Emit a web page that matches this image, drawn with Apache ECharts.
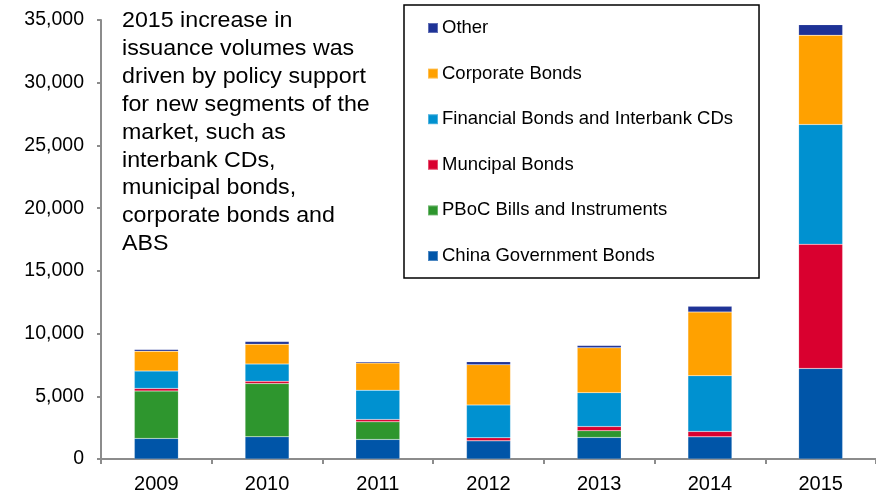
<!DOCTYPE html>
<html>
<head>
<meta charset="utf-8">
<script src="https://cdn.jsdelivr.net/npm/echarts@6/dist/echarts.min.js"></script>
<style>
  html, body { margin: 0; padding: 0; background: #fff; }
  #chart { width: 876px; height: 495px; }
</style>
</head>
<body>
<div id="chart"></div>
<script>
// Bond issuance by type, stacked per year
const years = ['2009', '2010', '2011', '2012', '2013', '2014', '2015'];
const governmentBonds = [1640, 1770, 1560, 1450, 1720, 1770, 7220];
const pbocBills       = [3780, 4240, 1400, 0, 530, 0, 0];
const municipalBonds  = [210, 180, 190, 240, 340, 430, 9900];
const financialBonds  = [1380, 1380, 2330, 2620, 2700, 4440, 9550];
const corporateBonds  = [1590, 1580, 2170, 3210, 3570, 5080, 7120];
const otherBonds      = [130, 220, 110, 240, 190, 450, 840];
const yTicks = [0, 5000, 10000, 15000, 20000, 25000, 30000, 35000];
const note = [
  '2015 increase in',
  'issuance volumes was',
  'driven by policy support',
  'for new segments of the',
  'market, such as',
  'interbank CDs,',
  'municipal bonds,',
  'corporate bonds and',
  'ABS'
];

const FONT = '"Liberation Sans", Arial, sans-serif';

const seriesDefs = [
  { name: 'China Government Bonds', data: governmentBonds, color: '#0055A8' },
  { name: 'PBoC Bills and Instruments', data: pbocBills, color: '#2E962E' },
  { name: 'Muncipal Bonds', data: municipalBonds, color: '#D9002F' },
  { name: 'Financial Bonds and Interbank CDs', data: financialBonds, color: '#0091D0' },
  { name: 'Corporate Bonds', data: corporateBonds, color: '#FFA100' },
  { name: 'Other', data: otherBonds, color: '#1E3296' }
];

const chart = echarts.init(document.getElementById('chart'), null, { renderer: 'canvas' });

chart.setOption({
  animation: false,
  backgroundColor: '#ffffff',
  grid: { left: 101, right: 0, top: 20, bottom: 36, containLabel: false },
  legend: {
    orient: 'vertical',
    left: 404,
    top: 5,
    width: 353,
    padding: [13, 26, 12, 23],
    itemGap: 25.6,
    itemWidth: 10,
    itemHeight: 10,
    icon: 'rect',
    borderColor: '#000',
    borderWidth: 1.5,
    textStyle: { fontFamily: FONT, fontSize: 18.5, color: '#000', lineHeight: 20, padding: [0, 0, 0, -1] },
    data: ['Other', 'Corporate Bonds', 'Financial Bonds and Interbank CDs',
           'Muncipal Bonds', 'PBoC Bills and Instruments', 'China Government Bonds']
  },
  xAxis: {
    type: 'category',
    data: years,
    axisLine: { lineStyle: { color: '#8c8c8c', width: 2 } },
    axisTick: { show: true, length: 5, lineStyle: { color: '#8c8c8c', width: 2 } },
    axisLabel: { fontFamily: FONT, fontSize: 20, color: '#000', margin: 15 }
  },
  yAxis: {
    type: 'value',
    min: 0,
    max: 35000,
    interval: 5000,
    splitLine: { show: false },
    axisLine: { show: true, lineStyle: { color: '#8c8c8c', width: 2 } },
    axisTick: { show: true, length: 4, lineStyle: { color: '#8c8c8c', width: 2 } },
    axisLabel: {
      fontFamily: FONT, fontSize: 19.5, color: '#000', margin: 17,
      formatter: v => yTicks.includes(v) ? v.toLocaleString('en-US') : ''
    }
  },
  graphic: [{
    type: 'text',
    left: 122,
    top: 7,
    scaleX: 1.055,
    style: {
      text: note.join('\n'),
      font: '22px ' + FONT,
      fill: '#000',
      lineHeight: 27.9
    }
  }],
  series: seriesDefs.map(s => ({
    name: s.name,
    type: 'bar',
    stack: 'issuance',
    barWidth: 44,
    data: s.data,
    itemStyle: { color: s.color, borderColor: 'rgba(255,255,255,0.3)', borderWidth: 0.5 },
    emphasis: { disabled: true }
  }))
});
</script>
</body>
</html>
